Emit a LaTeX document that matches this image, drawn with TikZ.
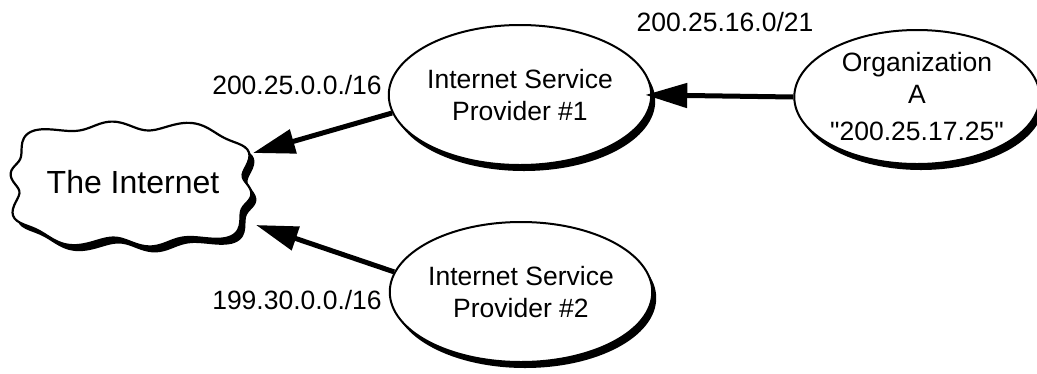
\documentclass[tikz,border=0pt]{standalone}
\usepackage{fontspec}
\setmainfont{Liberation Sans}
\newfontfamily\plainqfont{Liberation Sans}
\usetikzlibrary{shapes.geometric, arrows.meta, shadows}
\begin{document}
\begin{tikzpicture}[x=1pt, y=-1pt,
  lbl/.style={font=\fontsize{26.5}{32}\selectfont, inner sep=0pt},
  oval/.style={ellipse, draw=black, line width=2pt, fill=white, align=center,
    inner sep=0pt, font=\fontsize{26.5}{32}\selectfont,
    drop shadow={shadow xshift=4pt, shadow yshift=-6pt, fill=black, opacity=1}},
  arr/.style={line width=5pt, -{Triangle[length=42pt, width=24pt]}}
]
\useasboundingbox (0,0) rectangle (1037,373);
% cloud shadow and body
\fill[black, shift={(5pt,-6pt)}] plot[smooth cycle, domain=0:357.5, samples=144, variable=\t]
  ({131+cos(\t)*(116/((abs(cos(\t)))^4+(abs(sin(\t)))^4)^0.25+4.5*sin(10*\t))},
   {184+sin(\t)*(58/((abs(cos(\t)))^4+(abs(sin(\t)))^4)^0.25+4.5*sin(10*\t))});
\filldraw[fill=white, draw=black, line width=2.2pt] plot[smooth cycle, domain=0:357.5, samples=144, variable=\t]
  ({131+cos(\t)*(116/((abs(cos(\t)))^4+(abs(sin(\t)))^4)^0.25+4.5*sin(10*\t))},
   {184+sin(\t)*(58/((abs(cos(\t)))^4+(abs(sin(\t)))^4)^0.25+4.5*sin(10*\t))});
\node[font=\fontsize{32}{38}\selectfont, inner sep=0pt] (inet) at (133,182) {The Internet};

\node[oval, minimum width=250pt, minimum height=140pt] (isp1) at (520,95) {Internet Service\\Provider \#1};
\node[oval, minimum width=252pt, minimum height=140pt] (isp2) at (521,292) {Internet Service\\Provider \#2};
\node[oval, minimum width=228pt, minimum height=134pt] (orga) at (917,97) {Organization\\A\\[5pt]{\plainqfont"200.25.17.25"}};

\node[lbl] (l1) at (297,85) {200.25.0.0./16};
\node[lbl] (l2) at (297,300) {199.30.0.0./16};
\node[lbl] (l3) at (725,22) {200.25.16.0/21};

\coordinate (c1) at (253,153);
\coordinate (c2) at (256,225);
\draw[arr] (isp1.188) -- (c1);
\draw[arr] (isp2.171) -- (c2);
\draw[arr, shorten >=-7pt] (orga.west) -- (isp1.east);
\end{tikzpicture}
\end{document}
